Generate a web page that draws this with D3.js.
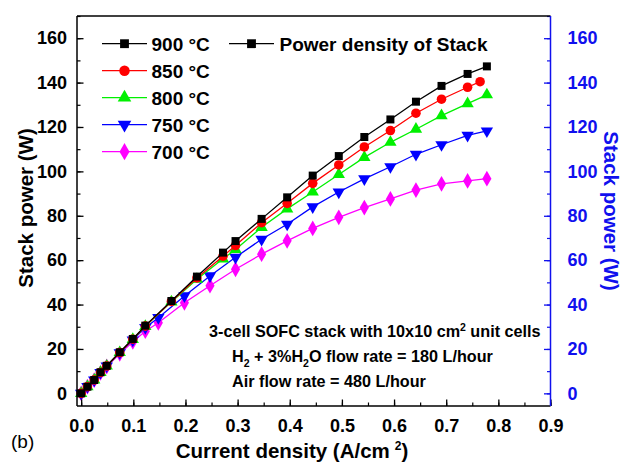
<!DOCTYPE html>
<html>
<head>
<meta charset="utf-8">
<script src="https://cdn.jsdelivr.net/npm/d3@7"></script>
<style>
  html, body { margin: 0; padding: 0; background: #fff; }
  svg { display: block; font-family: "Liberation Sans", Arial, Helvetica, sans-serif; }
</style>
</head>
<body>
<svg id="chart" width="623" height="463"></svg>
<script>
// Current density (A/cm2) at which each stack was measured
const currentFine = [0, 0.012, 0.025, 0.037, 0.049, 0.074, 0.099, 0.123, 0.173, 0.222, 0.272, 0.296, 0.346, 0.395, 0.444, 0.494, 0.543, 0.593, 0.642, 0.691, 0.741, 0.778];
const current850 = [0, 0.012, 0.025, 0.037, 0.049, 0.074, 0.099, 0.123, 0.173, 0.222, 0.272, 0.296, 0.346, 0.395, 0.444, 0.494, 0.543, 0.593, 0.642, 0.691, 0.741, 0.765];
const currentCoarse = [0, 0.012, 0.025, 0.037, 0.049, 0.074, 0.099, 0.123, 0.148, 0.198, 0.247, 0.296, 0.346, 0.395, 0.444, 0.494, 0.543, 0.593, 0.642, 0.691, 0.741, 0.778];

// Stack power (W) per operating temperature
const power900 = [0, 3.0, 6.0, 9.5, 12.4, 18.5, 24.5, 30.5, 41.6, 52.6, 63.4, 68.6, 78.6, 88.3, 98.1, 106.9, 115.5, 123.4, 131.4, 138.5, 143.9, 147.3];
const power850 = [0, 3.0, 6.0, 9.4, 12.3, 18.4, 24.4, 30.3, 41.4, 52.0, 61.8, 66.6, 76.9, 85.6, 94.6, 102.9, 111.0, 118.4, 126.2, 132.5, 137.9, 140.4];
const power800 = [0, 3.0, 6.0, 9.4, 12.3, 18.4, 24.3, 30.2, 41.2, 51.4, 60.6, 64.8, 74.8, 83.1, 90.7, 98.6, 106.3, 113.1, 119.0, 125.1, 130.5, 134.5];
const power750 = [0, 3.0, 6.0, 9.4, 12.3, 18.3, 24.0, 29.6, 34.1, 43.9, 52.9, 61.3, 69.4, 76.2, 84.0, 90.7, 96.6, 102.1, 107.7, 112.0, 116.2, 118.2];
const power700 = [0, 3.0, 6.0, 9.2, 12.1, 17.8, 23.2, 28.0, 31.8, 40.8, 48.5, 55.9, 62.7, 68.7, 74.3, 79.3, 83.7, 87.6, 91.6, 94.4, 95.7, 96.7];

const seriesLabels = ["900 °C", "850 °C", "800 °C", "750 °C", "700 °C"];
const xTicks = [0, 0.1, 0.2, 0.3, 0.4, 0.5, 0.6, 0.7, 0.8, 0.9];
const yTicks = [0, 20, 40, 60, 80, 100, 120, 140, 160];

const series = [
  { label: seriesLabels[0], x: currentFine,   y: power900, color: "#000000", symbol: d3.symbolSquare,   size: 64, rot: 0 },
  { label: seriesLabels[1], x: current850,    y: power850, color: "#ff0000", symbol: d3.symbolCircle,   size: 72, rot: 0 },
  { label: seriesLabels[2], x: currentFine,   y: power800, color: "#00f000", symbol: d3.symbolTriangle, size: 66, rot: 0 },
  { label: seriesLabels[3], x: currentCoarse, y: power750, color: "#0000ff", symbol: d3.symbolTriangle, size: 66, rot: 180 },
  { label: seriesLabels[4], x: currentCoarse, y: power700, color: "#ff00ff", symbol: d3.symbolDiamond,  size: 72, rot: 0 }
];

const svg = d3.select("#chart");
const L = 77, R = 550.5, T = 16, B = 406;

const x = d3.scaleLinear().domain([-0.008, 0.9]).range([L, R]);
const y = d3.scaleLinear().domain([-5.7, 170]).range([B, T]);

// Series: lines then markers, hottest drawn last so it sits on top
const line = d3.line();
series.slice().reverse().forEach(s => {
  const pts = s.x.map((v, i) => [x(v), y(s.y[i])]);
  const g = svg.append("g");
  g.append("path")
    .attr("d", line(pts))
    .attr("fill", "none")
    .attr("stroke", s.color)
    .attr("stroke-width", 1.3);
  g.selectAll("path.m").data(pts).join("path")
    .attr("class", "m")
    .attr("d", d3.symbol().type(s.symbol).size(s.size))
    .attr("transform", d => `translate(${d[0]},${d[1]}) rotate(${s.rot})`)
    .attr("fill", s.color);
});

// Axes with inward ticks
const minorY = d3.range(0, 171, 10);
const minorX = d3.range(0, 0.91, 0.05);
const tickFont = g => g.selectAll("text").attr("font-size", 18).attr("font-weight", "bold")
  .attr("font-family", "Liberation Sans, Arial, sans-serif");

const left = svg.append("g").attr("transform", `translate(${L},0)`)
  .call(d3.axisLeft(y).tickValues(minorY).tickSize(-3.5).tickFormat(""));
left.call(g => g.select(".domain").remove());
left.selectAll("line").attr("stroke-width", 1.2);
svg.append("g").attr("transform", `translate(${L},0)`)
  .call(d3.axisLeft(y).tickValues(yTicks).tickSize(-6.5).tickPadding(10).tickFormat(d3.format("d")))
  .call(g => g.select(".domain").remove())
  .call(tickFont)
  .call(g => g.selectAll("text").attr("fill", "#000"))
  .call(g => g.selectAll("line").attr("stroke-width", 1.3));

const bottom = svg.append("g").attr("transform", `translate(0,${B})`)
  .call(d3.axisBottom(x).tickValues(minorX).tickSize(-3.5).tickFormat(""));
bottom.call(g => g.select(".domain").remove());
bottom.selectAll("line").attr("stroke-width", 1.2);
svg.append("g").attr("transform", `translate(0,${B})`)
  .call(d3.axisBottom(x).tickValues(xTicks).tickSize(-6.5).tickPadding(13).tickFormat(d3.format(".1f")))
  .call(g => g.select(".domain").remove())
  .call(tickFont)
  .call(g => g.selectAll("text").attr("fill", "#000"))
  .call(g => g.selectAll("line").attr("stroke-width", 1.3));

const blue = "#1010ee";
const right = svg.append("g").attr("transform", `translate(${R},0)`)
  .call(d3.axisRight(y).tickValues(minorY).tickSize(-3.5).tickFormat(""));
right.call(g => g.select(".domain").remove());
right.selectAll("line").attr("stroke", blue).attr("stroke-width", 1.2);
svg.append("g").attr("transform", `translate(${R},0)`)
  .call(d3.axisRight(y).tickValues(yTicks).tickSize(-6.5).tickPadding(17).tickFormat(d3.format("d")))
  .call(g => g.select(".domain").remove())
  .call(g => g.selectAll("line").attr("stroke", blue).attr("stroke-width", 1.3))
  .call(tickFont)
  .call(g => g.selectAll("text").attr("fill", blue));

// Frame
svg.append("line").attr("x1", L).attr("x2", R).attr("y1", T).attr("y2", T).attr("stroke", "#000").attr("stroke-width", 1.5);
svg.append("line").attr("x1", L).attr("x2", R).attr("y1", B).attr("y2", B).attr("stroke", "#000").attr("stroke-width", 1.5);
svg.append("line").attr("x1", L).attr("x2", L).attr("y1", T).attr("y2", B).attr("stroke", "#000").attr("stroke-width", 1.5);
svg.append("line").attr("x1", R).attr("x2", R).attr("y1", T).attr("y2", B).attr("stroke", blue).attr("stroke-width", 1.5);

// Axis titles
const xt = svg.append("text").attr("x", 292).attr("y", 458).attr("text-anchor", "middle")
  .attr("font-size", 20.5).attr("font-weight", "bold").attr("fill", "#000");
xt.append("tspan").text("Current density (A/cm");
xt.append("tspan").attr("dx", 5).attr("dy", -8).attr("font-size", 12).text("2");
xt.append("tspan").attr("dy", 8).text(")");

svg.append("text").attr("transform", "translate(33,208) rotate(-90)").attr("text-anchor", "middle")
  .attr("font-size", 20.5).attr("font-weight", "bold").attr("fill", "#000").text("Stack power (W)");
svg.append("text").attr("transform", "translate(604,211) rotate(90)").attr("text-anchor", "middle")
  .attr("font-size", 20.5).attr("font-weight", "bold").attr("fill", blue).text("Stack power (W)");

svg.append("text").attr("x", 11).attr("y", 448).attr("font-size", 19).attr("fill", "#000").text("(b)");

// Legend
const legRow0 = 43.7, legStep = 27;
series.forEach((s, i) => {
  const cy = legRow0 + i * legStep;
  svg.append("line").attr("x1", 102).attr("x2", 147).attr("y1", cy).attr("y2", cy)
    .attr("stroke", s.color).attr("stroke-width", 1.3);
  svg.append("path").attr("d", d3.symbol().type(s.symbol).size(s.size + 14)())
    .attr("transform", `translate(124.5,${cy}) rotate(${s.rot})`).attr("fill", s.color);
  svg.append("text").attr("x", 151.5).attr("y", cy + 6.8).attr("font-size", 19).attr("font-weight", "bold")
    .attr("fill", "#000").text(s.label);
});
svg.append("line").attr("x1", 229).attr("x2", 274).attr("y1", legRow0).attr("y2", legRow0)
  .attr("stroke", "#000").attr("stroke-width", 1.3);
svg.append("path").attr("d", d3.symbol().type(d3.symbolSquare).size(78)())
  .attr("transform", `translate(251.5,${legRow0})`).attr("fill", "#000");
svg.append("text").attr("x", 279.5).attr("y", legRow0 + 6.8).attr("font-size", 19).attr("font-weight", "bold")
  .attr("fill", "#000").text("Power density of Stack");

// Test conditions
const note = svg.append("g").attr("font-size", 16.2).attr("font-weight", "bold").attr("fill", "#000");
const n1 = note.append("text").attr("x", 209).attr("y", 337);
n1.append("tspan").text("3-cell SOFC stack with 10x10 cm");
n1.append("tspan").attr("dy", -6.5).attr("font-size", 10.5).text("2");
n1.append("tspan").attr("dy", 6.5).text(" unit cells");
const n2 = note.append("text").attr("x", 232).attr("y", 361.5);
n2.append("tspan").text("H");
n2.append("tspan").attr("dy", 5).attr("font-size", 10.5).text("2");
n2.append("tspan").attr("dy", -5).text(" + 3%H");
n2.append("tspan").attr("dy", 5).attr("font-size", 10.5).text("2");
n2.append("tspan").attr("dy", -5).text("O flow rate = 180 L/hour");
note.append("text").attr("x", 232).attr("y", 386.5).text("Air flow rate = 480 L/hour");
</script>
</body>
</html>
